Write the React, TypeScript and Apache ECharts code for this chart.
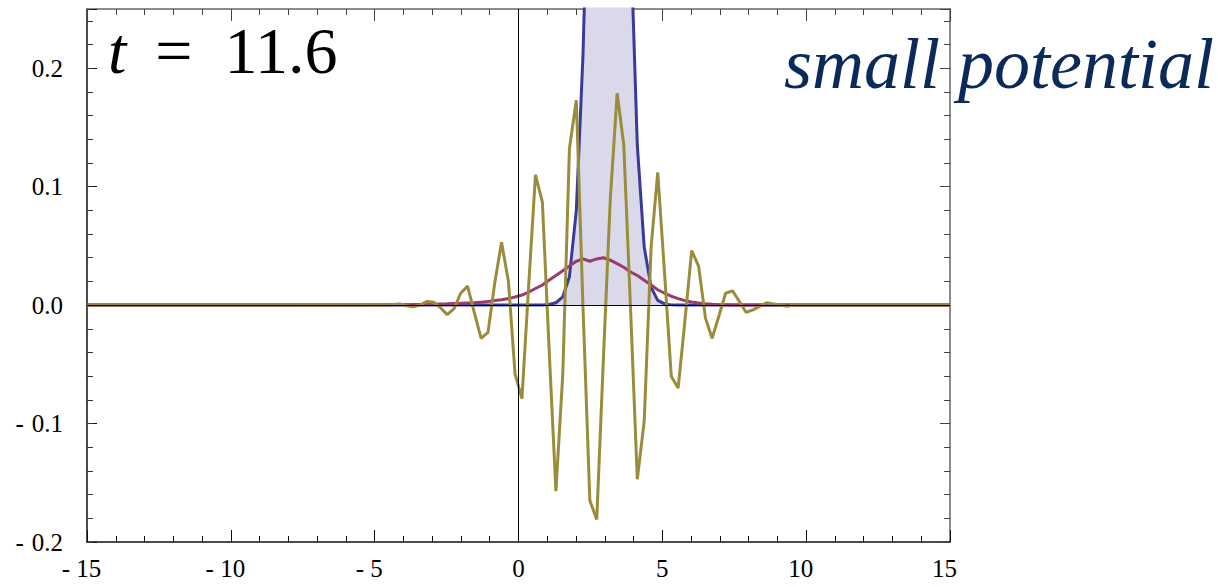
import React, { useEffect, useRef } from "react";
import * as echarts from "echarts";

// sample positions (x) of the wave-packet region; outside it every curve is 0
const xs = [
  -4.61, -4.37, -4.13, -3.9, -3.66, -3.43, -3.19, -2.95, -2.72, -2.48, -2.24, -2.01,
  -1.77, -1.54, -1.3, -1.06, -0.83, -0.59, -0.35, -0.12, 0.12, 0.35, 0.59, 0.83,
  1.06, 1.3, 1.54, 1.77, 2.01, 2.24, 2.48, 2.72, 2.95, 3.19, 3.43, 3.66,
  3.9, 4.13, 4.37, 4.61, 4.84, 5.08, 5.31, 5.55, 5.79, 6.02, 6.26, 6.5,
  6.73, 6.97, 7.2, 7.44, 7.68, 7.91, 8.15, 8.39, 8.62, 8.86, 9.09, 9.33,
  9.57, 9.8,
];

// real part of the wave function (olive)
const realPart = [
  0.0, 0.0005, 0.001, -0.0005, -0.0015, 0.0, 0.003, 0.0025, -0.002, -0.008, -0.003, 0.01,
  0.016, -0.006, -0.028, -0.023, 0.018, 0.053, 0.02, -0.058, -0.079, 0.015, 0.11, 0.087,
  -0.035, -0.157, -0.058, 0.132, 0.173, 0.0, -0.165, -0.181, -0.046, 0.089, 0.179, 0.135,
  -0.006, -0.147, -0.098, 0.049, 0.112, 0.026, -0.06, -0.07, -0.012, 0.046, 0.033, -0.011,
  -0.028, -0.009, 0.01, 0.012, 0.003, -0.006, -0.004, -0.001, 0.002, 0.001, 0.0, -0.001,
  0.0, 0.0,
];

// probability density (magenta)
const density = [
  0.0002, 0.0003, 0.0003, 0.0004, 0.0005, 0.0006, 0.0007, 0.0008, 0.001, 0.0011, 0.0013, 0.0015,
  0.0018, 0.002, 0.0025, 0.003, 0.0038, 0.0046, 0.0055, 0.0068, 0.0085, 0.011, 0.014, 0.017,
  0.021, 0.025, 0.029, 0.033, 0.037, 0.039, 0.037, 0.039, 0.04, 0.038, 0.035, 0.032,
  0.028, 0.025, 0.021, 0.017, 0.013, 0.01, 0.0075, 0.0055, 0.0038, 0.0026, 0.0017, 0.0011,
  0.0007, 0.0004, 0.0002, 0.0001, 0.0, 0.0, 0.0, 0.0, 0.0, 0.0, 0.0, 0.0,
  0.0, 0.0,
];

// potential barrier (blue, shaded); clipped at the top of the plot
const potential = [
  0, 0, 0, 0, 0, 0, 0, 0, 0, 0, 0, 0,
  0, 0, 0, 0, 0, 0, 0, 0, 0, 0, 0, 0,
  0.0005, 0.002, 0.007, 0.024, 0.08, 0.21, 0.42, 0.55, 0.58, 0.58, 0.55, 0.46,
  0.31, 0.135, 0.049, 0.015, 0.004, 0.001, 0.0002, 0, 0, 0, 0, 0,
  0, 0, 0, 0, 0, 0, 0, 0, 0, 0, 0, 0,
  0, 0,
];

const xRange = [-15, 15];
const yRange = [-0.2, 0.25];
const timeLabel = "11.6";
const titleText = "small potential";

const withTails = (ys: number[]) => [
  [xRange[0], 0],
  ...xs.map((x, i) => [x, ys[i]]),
  [xRange[1], 0],
];

const SERIF = "Liberation Serif";

export default function App() {
  const ref = useRef<HTMLDivElement>(null);

  useEffect(() => {
    if (!ref.current) return;
    const chart = echarts.init(ref.current, undefined, { renderer: "svg" });

    const xLabel = (v: number) => {
      const s = v < 0 ? "- " + Math.abs(v) : String(v);
      return s.length > 1 ? "{w|" + s + "}" : s;
    };
    const yLabel = (v: number) => {
      if (Math.abs(v * 10 - Math.round(v * 10)) > 1e-6) return "";
      const s = Math.abs(v).toFixed(1);
      return v < -1e-9 ? "{m|-}{n|" + s + "}" : "{n|" + s + "}";
    };

    const xBase = {
      type: "value" as const,
      min: xRange[0],
      max: xRange[1],
      interval: 5,
      splitLine: { show: false },
    };
    const yBase = {
      type: "value" as const,
      min: yRange[0],
      max: yRange[1],
      splitLine: { show: false },
    };

    chart.setOption({
      animation: false,
      backgroundColor: "#ffffff",
      grid: { left: 87, right: 268, top: 9, bottom: 45, containLabel: false },
      xAxis: [
        {
          ...xBase,
          position: "bottom",
          axisLine: { show: true, onZero: false, lineStyle: { color: "#111", width: 1.5 } },
          axisTick: { show: true, inside: true, length: 12, lineStyle: { color: "#111", width: 1 } },
          minorTick: { show: true, splitNumber: 5, length: 6, lineStyle: { color: "#111", width: 1 } },
          axisLabel: {
            show: true,
            formatter: xLabel,
            fontFamily: SERIF,
            fontSize: 25,
            color: "#000",
            margin: 14,
            rich: {
              w: { fontFamily: SERIF, fontSize: 25, color: "#000", padding: [0, 11, 0, 0] },
            },
          },
        },
        {
          ...xBase,
          position: "top",
          axisLine: { show: true, onZero: false, lineStyle: { color: "#666", width: 1.5 } },
          axisTick: { show: true, inside: true, length: 12, lineStyle: { color: "#444", width: 1 } },
          minorTick: { show: true, splitNumber: 5, length: 6, lineStyle: { color: "#444", width: 1 } },
          axisLabel: { show: false },
        },
      ],
      yAxis: [
        {
          ...yBase,
          interval: 0.1,
          position: "left",
          axisLine: { show: true, onZero: false, lineStyle: { color: "#111", width: 1.5 } },
          axisTick: { show: true, inside: true, length: 10, lineStyle: { color: "#111", width: 1 } },
          axisLabel: {
            show: true,
            formatter: yLabel,
            fontFamily: SERIF,
            fontSize: 25,
            color: "#000",
            margin: 24,
            rich: {
              m: { fontFamily: SERIF, fontSize: 25, color: "#000", padding: [0, 8, 0, 0] },
              n: { fontFamily: SERIF, fontSize: 25, color: "#000" },
            },
          },
        },
        {
          ...yBase,
          interval: 0.02,
          position: "left",
          axisLine: { show: false, onZero: false },
          axisTick: { show: true, inside: true, length: 6, lineStyle: { color: "#333", width: 1 } },
          axisLabel: { show: false },
        },
        {
          ...yBase,
          interval: 0.1,
          position: "right",
          axisLine: { show: true, onZero: false, lineStyle: { color: "#666", width: 1.5 } },
          axisTick: { show: true, inside: true, length: 10, lineStyle: { color: "#444", width: 1 } },
          axisLabel: { show: false },
        },
        {
          ...yBase,
          interval: 0.02,
          position: "right",
          axisLine: { show: false, onZero: false },
          axisTick: { show: true, inside: true, length: 6, lineStyle: { color: "#444", width: 1 } },
          axisLabel: { show: false },
        },
      ],
      series: [
        {
          name: "potential",
          type: "line",
          xAxisIndex: 0,
          yAxisIndex: 0,
          data: withTails(potential),
          symbol: "none",
          clip: true,
          z: 2,
          lineStyle: { color: "#3a3a9c", width: 3 },
          areaStyle: { color: "#d9d9ea", opacity: 1 },
        },
        {
          name: "density",
          type: "line",
          xAxisIndex: 0,
          yAxisIndex: 0,
          data: withTails(density),
          symbol: "none",
          clip: true,
          z: 3,
          lineStyle: { color: "#9c3b6e", width: 3 },
        },
        {
          name: "real part",
          type: "line",
          xAxisIndex: 0,
          yAxisIndex: 0,
          data: withTails(realPart),
          symbol: "none",
          clip: true,
          z: 4,
          lineStyle: { color: "#9b8c3c", width: 3 },
        },
        {
          name: "axes",
          type: "line",
          xAxisIndex: 0,
          yAxisIndex: 0,
          data: [],
          z: 6,
          markLine: {
            silent: true,
            symbol: "none",
            label: { show: false },
            lineStyle: { color: "#000", width: 1, type: "solid" },
            data: [{ yAxis: 0 }, { xAxis: 0 }],
          },
        },
      ],
      graphic: [
        {
          type: "text",
          left: 108,
          top: 17,
          z: 20,
          style: {
            text: "{i|t}{o|=}{n|" + timeLabel + "}",
            fontFamily: SERIF,
            fontSize: 66,
            fill: "#000",
            rich: {
              i: { fontFamily: SERIF, fontStyle: "italic", fontSize: 66, fill: "#000", padding: [0, 29, 0, 0] },
              o: { fontFamily: SERIF, fontSize: 66, fill: "#000", padding: [0, 32, 0, 0] },
              n: { fontFamily: SERIF, fontSize: 66, fill: "#000" },
            },
          },
        },
        {
          type: "text",
          left: 784,
          top: 28,
          z: 20,
          style: {
            text: titleText,
            fontFamily: SERIF,
            fontStyle: "italic",
            fontSize: 72,
            fill: "#0b2a5c",
          },
        },
      ],
    });

    return () => chart.dispose();
  }, []);

  return (
    <div
      ref={ref}
      style={{ position: "fixed", left: 0, top: 0, width: 1218, height: 587, background: "#fff" }}
    />
  );
}
